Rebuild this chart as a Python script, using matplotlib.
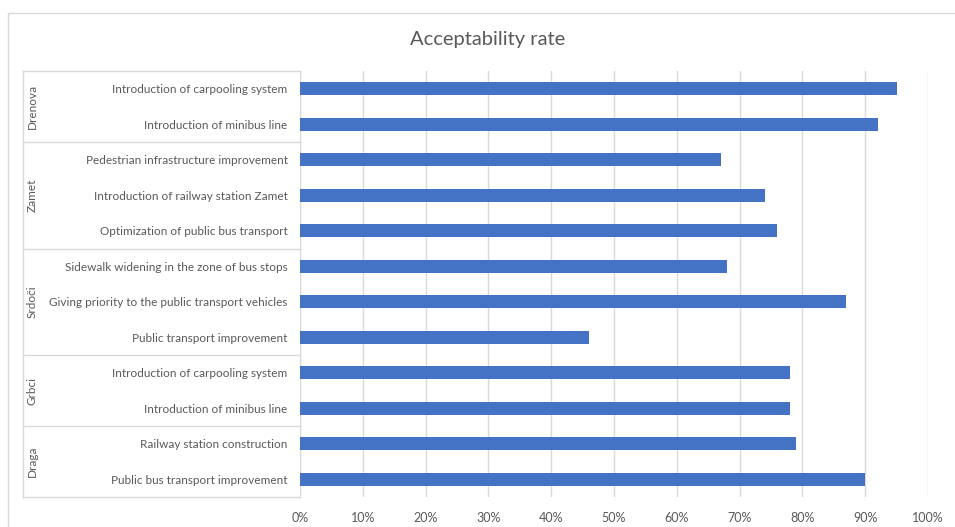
import matplotlib
matplotlib.use("Agg")
import matplotlib.pyplot as plt
import matplotlib.transforms as mtransforms
from matplotlib.patches import Rectangle
import numpy as np

plt.rcParams['font.family'] = ['Lato', 'DejaVu Sans']

groups = ["Drenova", "Zamet", "Srdoči", "Grbci", "Draga"]
group_sizes = [2, 3, 3, 2, 2]
categories = [
    "Introduction of carpooling system",
    "Introduction of minibus line",
    "Pedestrian infrastructure improvement",
    "Introduction of railway station Zamet",
    "Optimization of public bus transport",
    "Sidewalk widening in the zone of bus stops",
    "Giving priority to the public transport vehicles",
    "Public transport improvement",
    "Introduction of carpooling system",
    "Introduction of minibus line",
    "Railway station construction",
    "Public bus transport improvement",
]
values = [95, 92, 67, 74, 76, 68, 87, 46, 78, 78, 79, 90]
xticks = [0, 10, 20, 30, 40, 50, 60, 70, 80, 90, 100]
xtick_labels = [f"{t}%" for t in xticks]
title = "Acceptability rate"

W, H = 955, 527
fig = plt.figure(figsize=(W / 100, H / 100), dpi=100)
ax_left, ax_right, ax_top, ax_bot = 300, 928, 71, 497
ax = fig.add_axes([ax_left / W, 1 - ax_bot / H, (ax_right - ax_left) / W, (ax_bot - ax_top) / H])

text_col = "#595959"
grid_col = "#d9d9d9"
bar_col = "#4472C4"

y = np.arange(len(categories))
ax.barh(y, values, height=0.37, color=bar_col, zorder=3)
ax.set_xlim(0, 100)
ax.set_ylim(len(categories) - 0.5, -0.5)
ax.set_xticks(xticks)
ax.set_xticklabels(xtick_labels, color=text_col, fontsize=9)
ax.set_yticks(y)
ax.set_yticklabels(categories, color=text_col, fontsize=8.5)
ax.tick_params(axis='y', length=0, pad=9)
ax.tick_params(axis='x', length=0, pad=11)
ax.grid(axis='x', color=grid_col, linewidth=1, zorder=0)
for s in ["top", "right", "bottom"]:
    ax.spines[s].set_visible(False)
ax.spines["left"].set_color(grid_col)

# multi-level category table lines
trans = mtransforms.blended_transform_factory(ax.transAxes, ax.transData)
x_tab = (23 - ax_left) / (ax_right - ax_left)
bounds = np.concatenate([[0], np.cumsum(group_sizes)]) - 0.5
for b in bounds:
    ax.plot([x_tab, 0], [b, b], transform=trans, color=grid_col, lw=1, clip_on=False)
ax.plot([x_tab, x_tab], [bounds[0], bounds[-1]], transform=trans, color=grid_col, lw=1, clip_on=False)

x_grp = (32 - ax_left) / (ax_right - ax_left)
for g, lo, hi in zip(groups, bounds[:-1], bounds[1:]):
    ax.text(x_grp, (lo + hi) / 2, g, transform=trans, rotation=90, ha='center', va='center',
            color=text_col, fontsize=8.5)

fig.text(488 / W, 1 - 40 / H, title, ha='center', va='center', fontsize=14.5, color=text_col)

fig.patches.append(Rectangle((8 / W, -0.1), 1.2, 1.1 - 13 / H, transform=fig.transFigure,
                             fill=False, edgecolor=grid_col, lw=1))

fig.savefig("out.png", dpi=100, facecolor="white")
